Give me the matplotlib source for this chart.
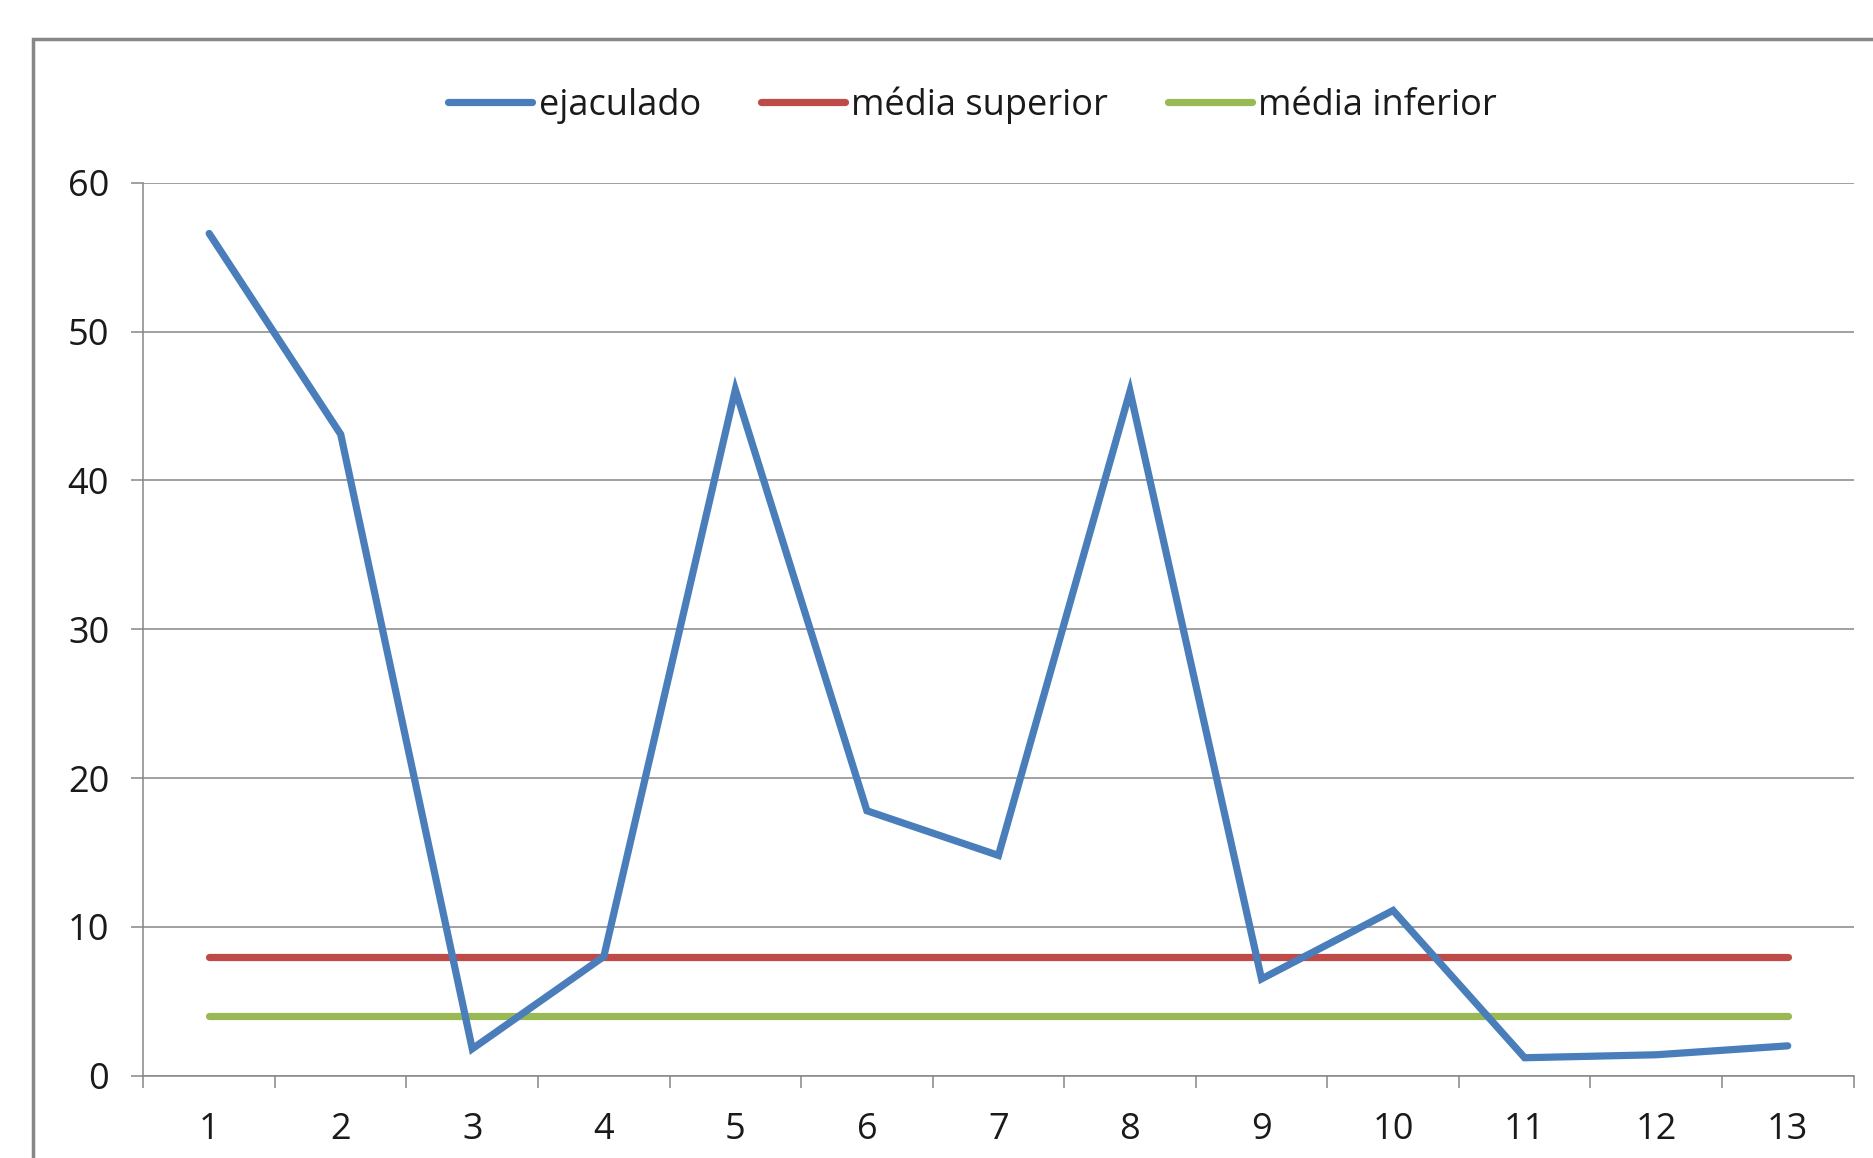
import matplotlib
matplotlib.use("Agg")
import matplotlib.pyplot as plt
from matplotlib.patches import Rectangle
from matplotlib.ticker import FixedLocator, NullFormatter

plt.rcParams['font.family'] = ['Open Sans', 'DejaVu Sans']

categories = ['1', '2', '3', '4', '5', '6', '7', '8', '9', '10', '11', '12', '13']
ejaculado = [56.6, 43.1, 1.8, 8.0, 46.1, 17.8, 14.8, 46.0, 6.5, 11.1, 1.2, 1.4, 2.0]
media_superior = [8] * 13
media_inferior = [4] * 13
yticks = [0, 10, 20, 30, 40, 50, 60]

W, H = 1874, 1158
fig = plt.figure(figsize=(W / 100, H / 100), dpi=100)
fig.patch.set_facecolor('white')

# outer chart frame (extends beyond the right and bottom edges)
frame = Rectangle((33.5 / W, -0.2), 2.0, 1 - 39.4 / H + 0.2, transform=fig.transFigure,
                  fill=False, edgecolor='#878787', linewidth=2.5, clip_on=False)
fig.patches.append(frame)

left, right = 143.4 / W, 1853.5 / W
bottom, top = (H - 1075.6) / H, (H - 182.9) / H
ax = fig.add_axes([left, bottom, right - left, top - bottom])

x = list(range(len(categories)))
grey = '#868686'
lw = 5.2
ax.plot(x, ejaculado, color='#4A7EBB', lw=lw, solid_capstyle='round', solid_joinstyle='miter',
        label='ejaculado', zorder=4)
ax.plot(x, media_superior, color='#BE4B48', lw=lw, solid_capstyle='round', label='média superior', zorder=3)
ax.plot(x, media_inferior, color='#98B954', lw=lw, solid_capstyle='round', label='média inferior', zorder=3)

ax.set_xlim(-0.5, len(categories) - 0.5)
ax.set_ylim(0, 60)
ax.set_yticks(yticks)
ax.set_yticklabels([str(v) for v in yticks])
ax.yaxis.grid(True, color=grey, linewidth=1.1)
ax.set_axisbelow(True)

ax.set_xticks(x)
ax.set_xticklabels(categories)
ax.xaxis.set_minor_locator(FixedLocator([i - 0.5 for i in range(len(categories) + 1)]))
ax.xaxis.set_minor_formatter(NullFormatter())
ax.tick_params(axis='x', which='major', length=0, pad=26.5, labelsize=26, labelcolor='#1a1a1a')
ax.tick_params(axis='x', which='minor', length=8.6, width=1.1, color=grey, direction='out')
ax.tick_params(axis='y', which='major', length=8.6, width=1.1, color=grey, direction='out',
               pad=16, labelsize=26, labelcolor='#1a1a1a')

for s in ['top', 'right']:
    ax.spines[s].set_visible(False)
for s in ['left', 'bottom']:
    ax.spines[s].set_color(grey)
    ax.spines[s].set_linewidth(1.1)

leg = fig.legend(loc='center', bbox_to_anchor=(0.519, 1 - 105.2 / H), ncol=3, frameon=False,
                 fontsize=26, handlelength=2.33, handletextpad=0.17, columnspacing=1.66,
                 borderaxespad=0)
for t in leg.get_texts():
    t.set_color('#1a1a1a')

fig.savefig('out.png', dpi=100, facecolor='white')
